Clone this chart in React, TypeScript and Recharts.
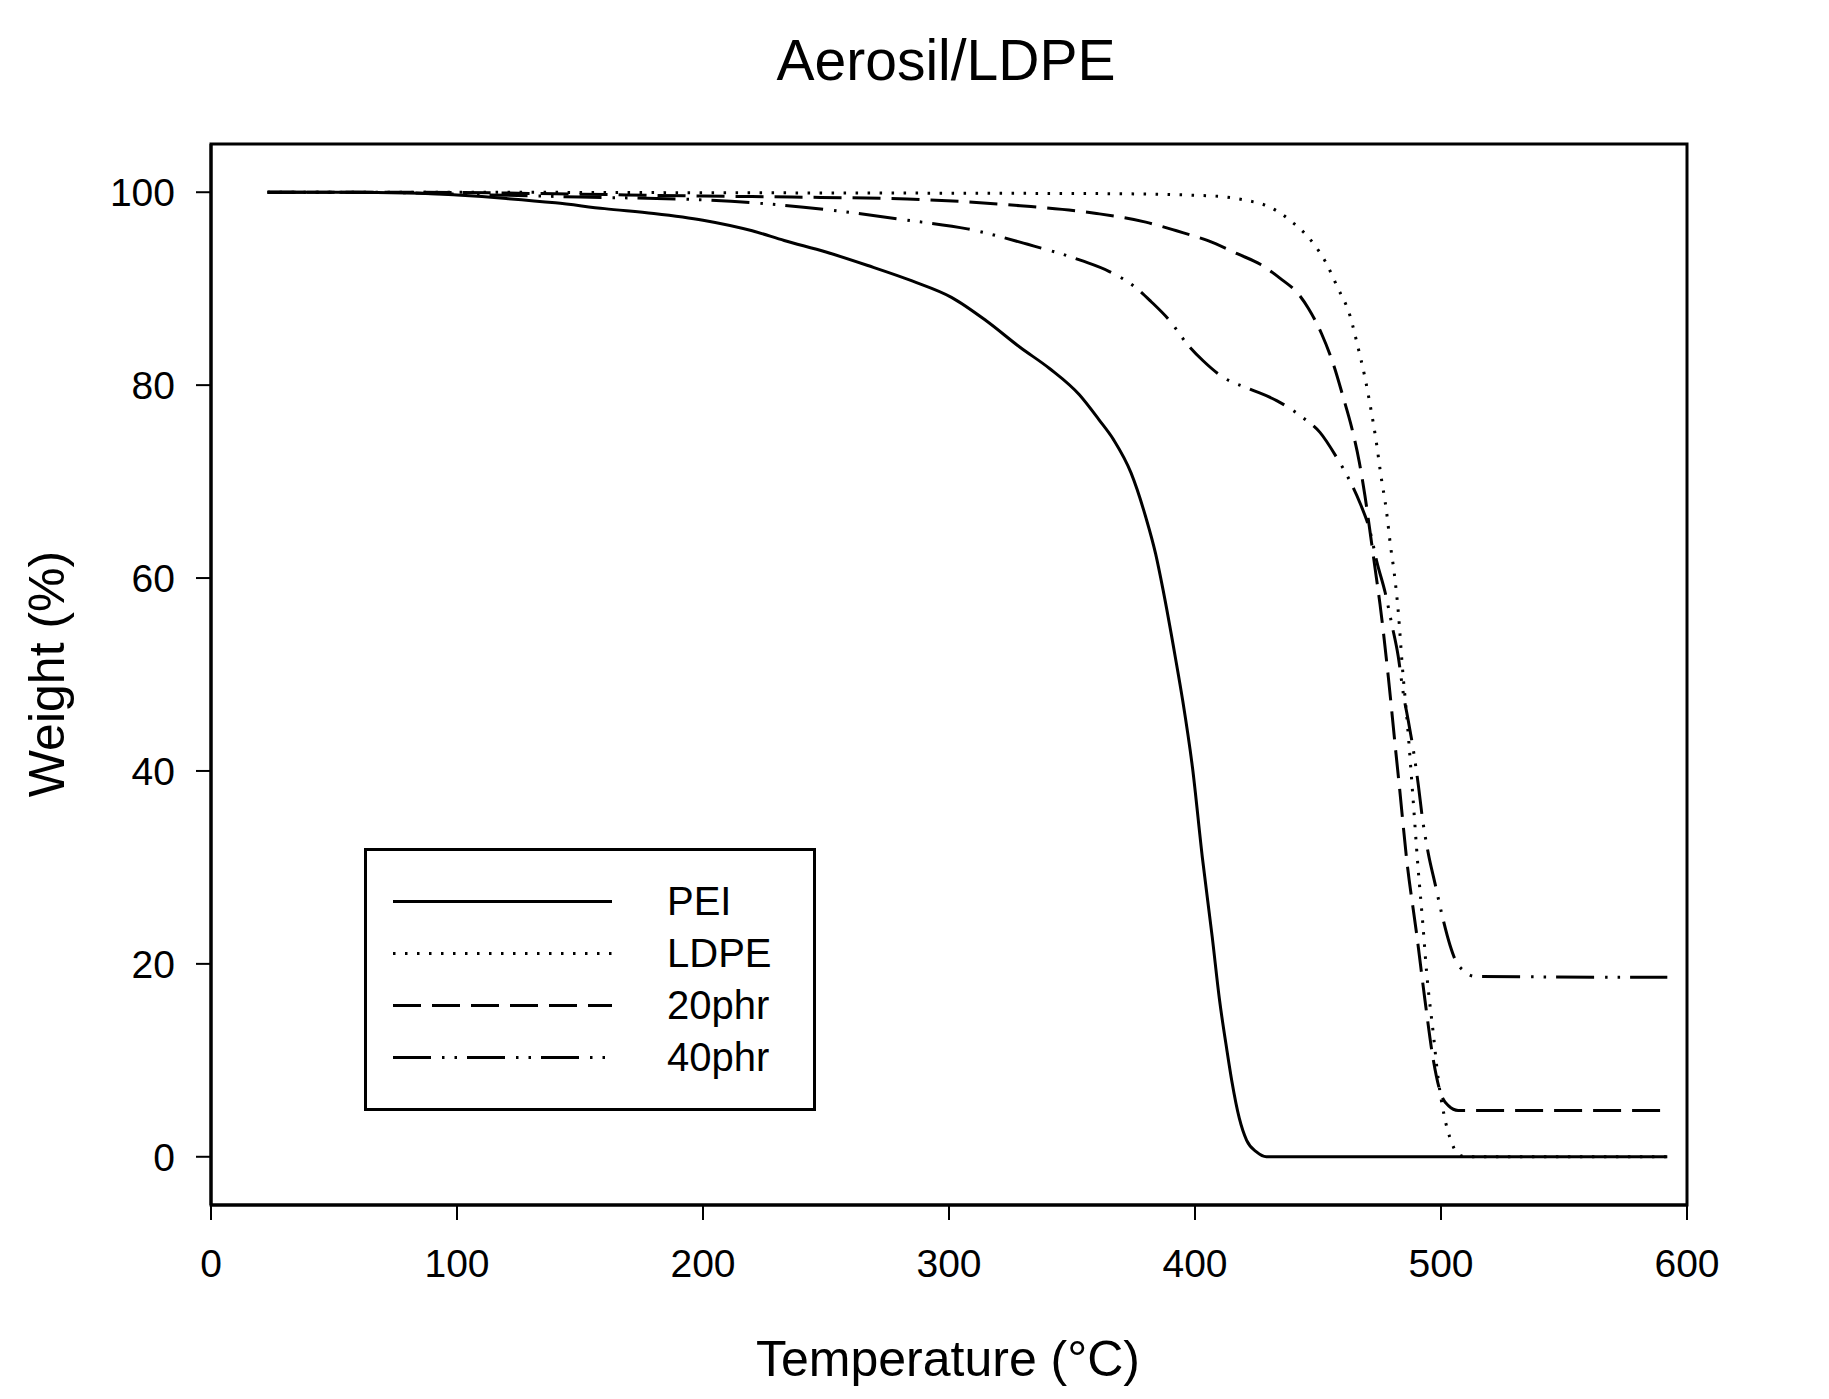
import { LineChart, Line, XAxis, YAxis, ReferenceArea, Legend, Label } from 'recharts'

// TGA curves: temperature (°C) and weight (%)
const PEI_T = [23, 50, 85, 100, 120, 140, 160, 180, 200, 220, 233, 250, 267, 285, 301, 315, 329, 341, 353, 361, 367, 374, 380, 384, 387, 392, 395, 399, 403, 407, 410, 413, 415, 418, 421, 425, 429, 440, 500, 592]
const PEI_W = [100, 100, 99.9, 99.7, 99.35, 98.9, 98.3, 97.8, 97.1, 96.0, 95.0, 93.8, 92.4, 90.8, 89.1, 86.7, 83.9, 81.7, 79.0, 76.4, 74.3, 70.9, 66.3, 62.5, 58.8, 51.8, 47.3, 40.3, 31.0, 22.8, 16.2, 11.0, 7.8, 4.0, 1.7, 0.5, 0, 0, 0, 0]

const LDPE_T = [23, 100, 200, 300, 365, 408, 420, 430, 436, 440, 444, 449, 453, 458, 463, 466, 469, 471.5, 473.7, 475.6, 477.8, 479.5, 481, 482.7, 484.2, 486.4, 488.5, 490.6, 492.5, 494.2, 496.9, 498.9, 501.2, 504.3, 506.5, 510, 592]
const LDPE_W = [100, 100, 99.95, 99.9, 99.85, 99.6, 99.2, 98.5, 97.6, 96.8, 95.9, 94.4, 92.8, 90.1, 87.2, 84.2, 80.9, 77.5, 74.1, 70.6, 67.0, 63.3, 60.5, 56.3, 51.1, 44.7, 37.6, 30.2, 24.5, 19.0, 12.7, 8.0, 4.4, 1.5, 0.4, 0, 0]

const P20_T = [23, 80, 150, 200, 236, 283, 329, 360, 380, 392.5, 405, 417.4, 426.7, 434.5, 442.5, 446, 451.5, 456.2, 460.3, 463.7, 466.8, 469.1, 471.1, 473.2, 475.2, 478.6, 481.5, 483, 486.1, 490.1, 493.5, 496.9, 499.6, 503, 507, 592]
const P20_W = [100, 100, 99.8, 99.6, 99.5, 99.3, 98.6, 97.8, 96.9, 96.0, 95.0, 93.6, 92.5, 91.1, 89.3, 88.0, 85.3, 82.2, 78.7, 75.6, 72.0, 68.5, 64.9, 61.0, 57.3, 49.7, 42.3, 38.6, 30.7, 23.1, 16.2, 10.0, 6.8, 5.3, 4.8, 4.8]

const P40_T = [23, 60, 100, 150, 200, 228, 255, 283, 307.5, 332, 354, 365, 376, 382, 390, 397, 403.4, 411.5, 422.3, 433.2, 444, 450.8, 457.6, 462.3, 467.2, 471.1, 474, 477.3, 480, 482.6, 484.7, 486.7, 488.8, 490.8, 492.5, 494.8, 497.6, 500.3, 503.7, 506, 509.1, 513.8, 592]
const P40_W = [100, 100, 99.8, 99.5, 99.2, 98.75, 98.05, 97.1, 96.2, 94.6, 92.9, 91.8, 90.1, 88.7, 86.6, 84.2, 82.5, 80.8, 79.6, 78.4, 76.6, 75.1, 72.5, 70.4, 67.7, 64.9, 61.6, 58.5, 55.2, 51.9, 48.0, 45.2, 42.1, 38.5, 35.0, 31.5, 28.3, 25.2, 21.9, 20.3, 19.3, 18.7, 18.6]

const X_TICKS = [0, 100, 200, 300, 400, 500, 600]
const Y_TICKS = [0, 20, 40, 60, 80, 100]

const FONT = '"Liberation Sans", Arial, sans-serif'

const toPoints = (t: number[], w: number[]) => t.map((x, i) => ({ x, y: w[i] }))

const SERIES = [
  { name: 'PEI', data: toPoints(PEI_T, PEI_W), dash: undefined as string | undefined },
  { name: 'LDPE', data: toPoints(LDPE_T, LDPE_W), dash: '2.5 9.5' },
  { name: '20phr', data: toPoints(P20_T, P20_W), dash: '28 11' },
  { name: '40phr', data: toPoints(P40_T, P40_W), dash: '38 11 2.5 10 2.5 10' },
]

function LegendBox() {
  return (
    <svg width={452} height={263} style={{ display: 'block' }}>
      <rect x={1.5} y={1.5} width={449} height={260} fill="#fff" stroke="#000" strokeWidth={3} />
      {SERIES.map((s, i) => {
        const y = 53.5 + i * 52
        return (
          <g key={s.name}>
            <line x1={29} x2={248} y1={y} y2={y} stroke="#000" strokeWidth={3} strokeDasharray={s.dash} />
            <text x={303} y={y + 13.5} fontSize={40} fontFamily={FONT} fill="#000">
              {s.name}
            </text>
          </g>
        )
      })}
    </svg>
  )
}

export default function App() {
  return (
    <div style={{ position: 'absolute', left: 0, top: 0, width: 1829, height: 1399, background: '#fff', fontFamily: FONT }}>
      <div
        style={{
          position: 'absolute',
          left: 446,
          top: 32,
          width: 1000,
          textAlign: 'center',
          fontSize: 57,
          lineHeight: '57px',
          color: '#000',
        }}
      >
        Aerosil/LDPE
      </div>
      <LineChart width={1829} height={1399} margin={{ top: 144, right: 142, bottom: 74, left: 71 }}>
        <XAxis
          type="number"
          dataKey="x"
          domain={[0, 600]}
          ticks={X_TICKS}
          height={120}
          tickSize={15}
          tickMargin={29}
          axisLine={{ stroke: '#000', strokeWidth: 3 }}
          tickLine={{ stroke: '#000', strokeWidth: 2 }}
          tick={{ fill: '#000', fontSize: 39, fontFamily: FONT }}
        >
          <Label
            content={() => (
              <text x={948} y={1376} textAnchor="middle" fontSize={50} fontFamily={FONT} fill="#000">
                Temperature (°C)
              </text>
            )}
          />
        </XAxis>
        <YAxis
          type="number"
          domain={[-5, 105]}
          ticks={Y_TICKS}
          width={140}
          tickSize={15}
          tickMargin={21}
          axisLine={{ stroke: '#000', strokeWidth: 3 }}
          tickLine={{ stroke: '#000', strokeWidth: 2 }}
          tick={{ fill: '#000', fontSize: 39, fontFamily: FONT }}
        >
          <Label
            content={() => (
              <text
                x={64}
                y={674}
                transform="rotate(-90 64 674)"
                textAnchor="middle"
                fontSize={50}
                fontFamily={FONT}
                fill="#000"
              >
                Weight (%)
              </text>
            )}
          />
        </YAxis>
        <ReferenceArea x1={0} x2={600} y1={-5} y2={105} fill="none" stroke="#000" strokeWidth={3} ifOverflow="visible" />
        {SERIES.map((s) => (
          <Line
            key={s.name}
            name={s.name}
            data={s.data}
            dataKey="y"
            type="monotone"
            stroke="#000"
            strokeWidth={3}
            strokeDasharray={s.dash}
            dot={false}
            activeDot={false}
            isAnimationActive={false}
          />
        ))}
        <Legend
          layout="horizontal"
          verticalAlign="middle"
          align="center"
          content={() => <LegendBox />}
          wrapperStyle={{ left: 364, top: 848, width: 452, height: 263 }}
        />
      </LineChart>
    </div>
  )
}
